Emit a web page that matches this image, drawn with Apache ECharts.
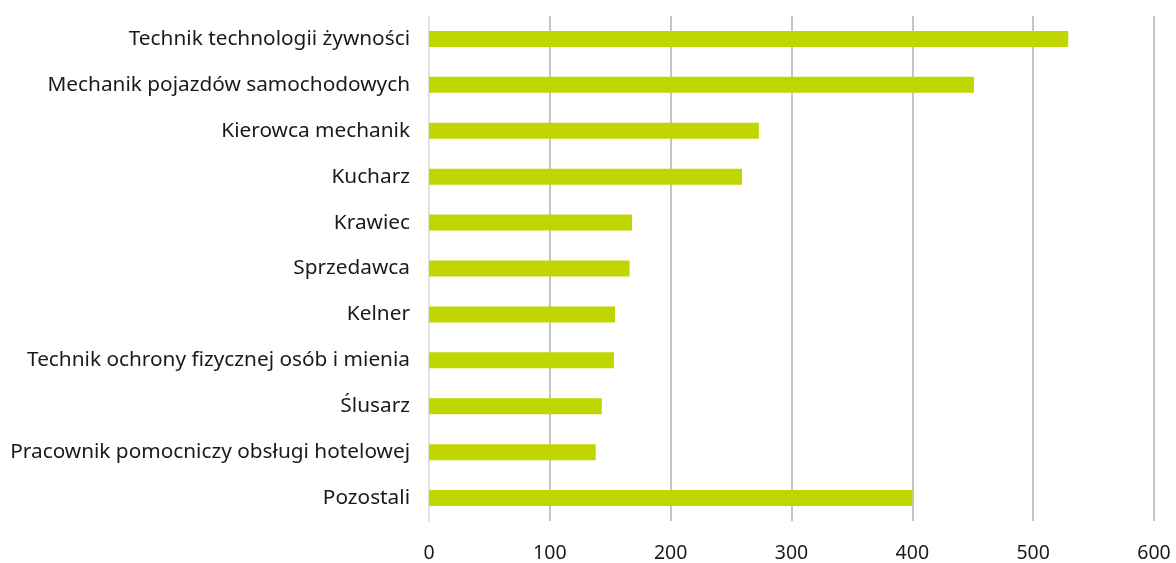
<!DOCTYPE html>
<html><head><meta charset="utf-8">
<script src="https://cdn.jsdelivr.net/npm/echarts@6/dist/echarts.min.js"></script>
<style>html,body{margin:0;padding:0;background:#fff}#c{width:1176px;height:563px}</style>
</head><body><div id="c"></div>
<script>
const categories = [
  "Technik technologii żywności",
  "Mechanik pojazdów samochodowych",
  "Kierowca mechanik",
  "Kucharz",
  "Krawiec",
  "Sprzedawca",
  "Kelner",
  "Technik ochrony fizycznej osób i mienia",
  "Ślusarz",
  "Pracownik pomocniczy obsługi hotelowej",
  "Pozostali"
];
const values = [529, 451, 273, 259, 168, 166, 154, 153, 143, 138, 400];
const xTicks = [0, 100, 200, 300, 400, 500, 600];

const chart = echarts.init(document.getElementById('c'));
chart.setOption({
  animation: false,
  grid: { left: 429, right: 22, top: 16, bottom: 40, containLabel: false },
  xAxis: {
    type: 'value', min: xTicks[0], max: xTicks[xTicks.length-1], interval: 100,
    axisLine: { show: false }, axisTick: { show: false },
    axisLabel: { color: '#1a1a1a', fontFamily: 'Noto Sans', fontSize: 19.5, margin: 22 },
    splitLine: { show: true, showMinLine: false, lineStyle: { color: '#b0b0b0', width: 1.5 } }
  },
  yAxis: {
    type: 'category', data: categories, inverse: true,
    axisLine: { show: true, lineStyle: { color: '#d9d9d9', width: 1.5 } },
    axisTick: { show: false },
    axisLabel: { color: '#1a1a1a', fontFamily: 'Noto Sans', fontSize: 20.8, margin: 19 }
  },
  series: [{
    type: 'bar', data: values, barWidth: 16,
    itemStyle: { color: '#bfd600' }
  }]
});
</script></body></html>
